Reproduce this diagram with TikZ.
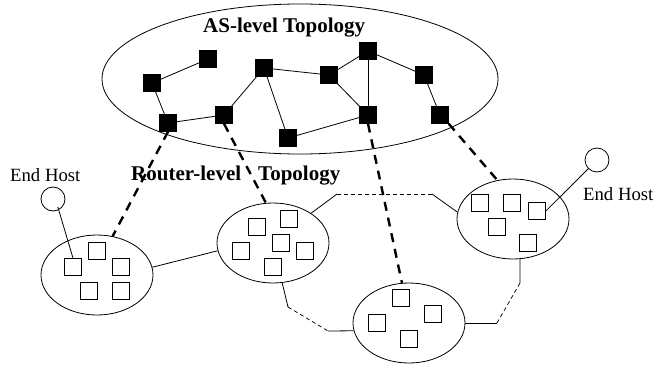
\documentclass[tikz,border=0pt]{standalone}
\usepackage{fontspec}
\setmainfont{Liberation Serif}
\usetikzlibrary{shapes.geometric, calc}
\tikzset{
  asnode/.style  ={draw, fill=black, minimum size=17pt, inner sep=0pt},
  rtnode/.style  ={draw, fill=white, minimum size=17pt, inner sep=0pt, line width=0.8pt},
  cloud/.style   ={draw, ellipse, minimum width=112pt, minimum height=80pt,
                   inner sep=0pt, line width=0.8pt},
  hostnode/.style={draw, circle, minimum size=24pt, inner sep=0pt, line width=0.8pt},
  lnk/.style     ={line width=0.8pt},
  vlnk/.style    ={line width=0.7pt, dashed, dash pattern=on 4pt off 3pt},
  map/.style     ={line width=2.4pt, dash pattern=on 9pt off 7pt},
  ttl/.style     ={font=\fontsize{21}{24}\selectfont\bfseries, inner sep=0pt},
  hostlbl/.style ={font=\fontsize{18.7}{21}\selectfont, inner sep=0pt},
}

\begin{document}
\begin{tikzpicture}[x=1pt, y=-1pt]
\useasboundingbox (0,0) rectangle (653,369);

%% ════════════════════════════════════════════════════════════
%%  AS-LEVEL TOPOLOGY
%% ════════════════════════════════════════════════════════════
\node[draw, ellipse, minimum width=396pt, minimum height=150pt, line width=0.8pt]
  (aslevel) at (300,79) {};
\node[ttl, anchor=base west] (astitle) at (203,33) {AS-level Topology};

\node[asnode] (as1)  at (208,59)  {};
\node[asnode] (as2)  at (152,83)  {};
\node[asnode] (as3)  at (264,68)  {};
\node[asnode] (as4)  at (329,75)  {};
\node[asnode] (as5)  at (368,51)  {};
\node[asnode] (as6)  at (424,75)  {};
\node[asnode] (as7)  at (168,123) {};
\node[asnode] (as8)  at (224,115) {};
\node[asnode] (as9)  at (288,138) {};
\node[asnode] (as10) at (368,115) {};
\node[asnode] (as11) at (440,115) {};

% AS links
\draw[lnk] (as2) -- (as1);
\draw[lnk] (as2) -- (as7);
\draw[lnk] (as7) -- (as8);
\draw[lnk] (as8) -- (as3);
\draw[lnk] (as3) -- (as4);
\draw[lnk] (as3) -- (as9);
\draw[lnk] (as9) -- (as10);
\draw[lnk] (as4) -- (as5);
\draw[lnk] (as4) -- (as10);
\draw[lnk] (as5) -- (as10);
\draw[lnk] (as5) -- (as6);
\draw[lnk] (as6) -- (as11);

%% ════════════════════════════════════════════════════════════
%%  ROUTER-LEVEL TOPOLOGY
%% ════════════════════════════════════════════════════════════
\node[ttl, anchor=base west] (rttitle) at (131,180)
  {Router-level\hspace{17pt}Topology};

% left cluster
\node[cloud] (rleft) at (97,275) {};
\node[rtnode] (l1) at (73,267)  {};
\node[rtnode] (l2) at (97,251)  {};
\node[rtnode] (l3) at (121,267) {};
\node[rtnode] (l4) at (89,291)  {};
\node[rtnode] (l5) at (121,291) {};

% middle cluster
\node[cloud] (rmid) at (273,243) {};
\node[rtnode] (m1) at (257,227) {};
\node[rtnode] (m2) at (289,219) {};
\node[rtnode] (m3) at (241,251) {};
\node[rtnode] (m4) at (281,243) {};
\node[rtnode] (m5) at (305,251) {};
\node[rtnode] (m6) at (273,267) {};

% bottom cluster
\node[cloud] (rbot) at (409,323) {};
\node[rtnode] (b1) at (401,298) {};
\node[rtnode] (b2) at (377,323) {};
\node[rtnode] (b3) at (433,314) {};
\node[rtnode] (b4) at (409,339) {};

% right cluster
\node[cloud] (rright) at (513,219) {};
\node[rtnode] (r1) at (480,203) {};
\node[rtnode] (r2) at (512,203) {};
\node[rtnode] (r3) at (537,211) {};
\node[rtnode] (r4) at (497,227) {};
\node[rtnode] (r5) at (528,243) {};

% end hosts
\node[hostnode] (hleft)  at (53,199)  {};
\node[hostlbl, anchor=base west] at (10,181) {End Host};
\node[hostnode] (hright) at (597,160) {};
\node[hostlbl, anchor=base west] at (583,200) {End Host};

\draw[lnk] (hleft.south east) ++(-4,-1) coordinate (hl) -- (l1.north);
\draw[lnk] (hright) -- (r3.east);

% links between clusters
\coordinate (k1) at (337,194);
\coordinate (k2) at (432,194);
\coordinate (k3) at (288,307);
\coordinate (k4) at (328,331);
\coordinate (k5) at (497,323);
\coordinate (k6) at (520,283);

\draw[lnk] (rleft.8) -- (rmid.188);
\draw[lnk] (rmid.38) -- (k1);
\draw[vlnk] (k1) -- (k2);
\draw[lnk] (k2) -- (rright.173);
\draw[lnk] (rmid.283) -- (k3);
\draw[vlnk] (k3) -- (k4);
\draw[lnk] (k4) -- (rbot.188);
\draw[lnk] (rbot.0) -- (k5);
\draw[vlnk] (k5) -- (k6);
\draw[lnk] (k6) -- (rright.280);

%% AS to router-level mapping
\draw[map] (as7.south)  -- (rleft.68);
\draw[map] (as8.south)  -- (rmid.100);
\draw[map] (as10.south) -- (rbot.100);
\draw[map] (as11.south east) -- (rright.112);

\end{tikzpicture}
\end{document}
